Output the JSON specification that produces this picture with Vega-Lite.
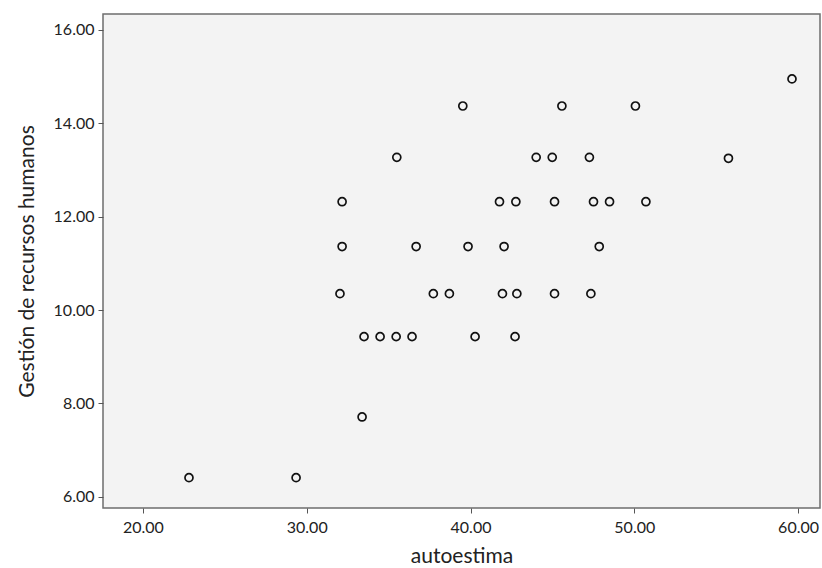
{
  "$schema": "https://vega.github.io/schema/vega-lite/v6.json",
  "width": 717,
  "height": 494,
  "autosize": {"type": "none"},
  "padding": {"left": 103, "top": 14, "right": 2, "bottom": 60},
  "background": "white",
  "config": {
    "view": {"fill": "#f3f3f3", "stroke": "#6e6e6e", "strokeWidth": 1.5},
    "font": "Lato",
    "axis": {
      "labelFont": "Lato",
      "titleFont": "Lato",
      "labelColor": "#222",
      "titleColor": "#222",
      "labelFontSize": 16,
      "titleFontSize": 21,
      "titleFontWeight": "normal",
      "tickColor": "#555",
      "tickSize": 5,
      "labelPadding": 4,
      "domain": false,
      "grid": false
    }
  },
  "data": {
    "values": [
      {"autoestima": 22.81, "gestion": 6.41},
      {"autoestima": 29.35, "gestion": 6.41},
      {"autoestima": 33.38, "gestion": 7.71},
      {"autoestima": 33.50, "gestion": 9.43},
      {"autoestima": 34.48, "gestion": 9.43},
      {"autoestima": 35.46, "gestion": 9.43},
      {"autoestima": 36.43, "gestion": 9.43},
      {"autoestima": 40.28, "gestion": 9.43},
      {"autoestima": 42.72, "gestion": 9.43},
      {"autoestima": 32.03, "gestion": 10.35},
      {"autoestima": 37.73, "gestion": 10.35},
      {"autoestima": 38.71, "gestion": 10.35},
      {"autoestima": 41.95, "gestion": 10.35},
      {"autoestima": 42.83, "gestion": 10.35},
      {"autoestima": 45.13, "gestion": 10.35},
      {"autoestima": 47.35, "gestion": 10.35},
      {"autoestima": 32.16, "gestion": 11.36},
      {"autoestima": 36.68, "gestion": 11.36},
      {"autoestima": 39.85, "gestion": 11.36},
      {"autoestima": 42.05, "gestion": 11.36},
      {"autoestima": 47.86, "gestion": 11.36},
      {"autoestima": 32.16, "gestion": 12.32},
      {"autoestima": 41.77, "gestion": 12.32},
      {"autoestima": 42.77, "gestion": 12.32},
      {"autoestima": 45.13, "gestion": 12.32},
      {"autoestima": 47.51, "gestion": 12.32},
      {"autoestima": 48.49, "gestion": 12.32},
      {"autoestima": 50.71, "gestion": 12.32},
      {"autoestima": 35.50, "gestion": 13.27},
      {"autoestima": 44.01, "gestion": 13.27},
      {"autoestima": 44.99, "gestion": 13.27},
      {"autoestima": 47.26, "gestion": 13.27},
      {"autoestima": 55.75, "gestion": 13.25},
      {"autoestima": 39.53, "gestion": 14.37},
      {"autoestima": 45.58, "gestion": 14.37},
      {"autoestima": 50.07, "gestion": 14.37},
      {"autoestima": 59.63, "gestion": 14.95}
    ]
  },
  "mark": {"type": "point", "shape": "circle", "filled": false, "stroke": "#111", "strokeWidth": 1.7, "size": 64, "opacity": 1},
  "encoding": {
    "x": {
      "field": "autoestima",
      "type": "quantitative",
      "title": "autoestima",
      "scale": {"domain": [17.56, 61.34], "nice": false, "zero": false},
      "axis": {"values": [20, 30, 40, 50, 60], "format": ".2f", "labelPadding": 6, "titlePadding": 10}
    },
    "y": {
      "field": "gestion",
      "type": "quantitative",
      "title": "Gestión de recursos humanos",
      "scale": {"domain": [5.76, 16.34], "nice": false, "zero": false},
      "axis": {"values": [6, 8, 10, 12, 14, 16], "format": ".2f", "titlePadding": 16}
    }
  }
}
